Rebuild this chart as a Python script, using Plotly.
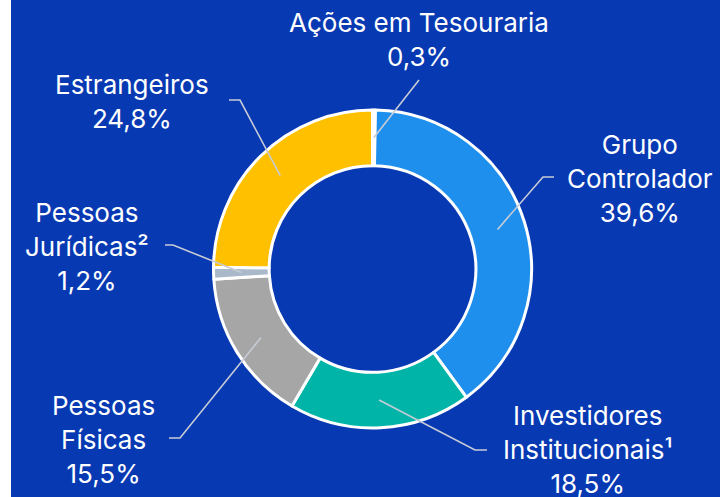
import math
import plotly.graph_objects as go

# ---- data ----
categories = ["Ações em Tesouraria", "Grupo Controlador", "Investidores Institucionais¹",
              "Pessoas Físicas", "Pessoas Jurídicas²", "Estrangeiros"]
shares = [0.3, 39.6, 18.5, 15.5, 1.2, 24.8]
colors = ["#FFFFFF", "#1F8FEE", "#00B5A8", "#A6A6A6", "#A9B9C9", "#FFC000"]

# ---- layout constants (pixels) ----
W, H = 720, 497
BG = "#0739B3"
CX, CY, R = 372.5, 269.0, 159.0
HOLE = 0.65
# label centres, leader knees and leader ends
label_pos = [(419, 40), (640, 178), (587, 449), (103, 439), (87, 246), (132, 101)]
knees = [(419, 80), (543, 177), (475, 450), (180, 438), (173, 245), (240, 100)]
ends = [(419, 80), (554, 177), (487, 450), (169, 438), (165, 245), (229, 100)]


def px(x):
    return x / W


def py(y):
    return 1 - y / H


def wrap(name):
    if name == "Ações em Tesouraria":
        return name
    return name.replace(" ", "<br>", 1)


def fmt(v):
    return f"{v:.1f}".replace(".", ",") + "%"


fig = go.Figure(go.Pie(
    labels=categories,
    values=shares,
    sort=False,
    direction="clockwise",
    rotation=0,
    hole=HOLE,
    marker=dict(colors=colors, line=dict(color="#FFFFFF", width=3)),
    textinfo="none",
    hoverinfo="label+percent",
    showlegend=False,
    domain=dict(x=[px(CX - R), px(CX + R)], y=[py(CY + R), py(CY - R)]),
))

shapes = [dict(type="rect", xref="paper", yref="paper", x0=px(11), x1=1, y0=0, y1=1,
               fillcolor=BG, line=dict(width=0), layer="below")]
annotations = []
total = sum(shares)
cum = 0.0
rmid = R * (1 + HOLE) / 2
for name, v, lp, kn, en in zip(categories, shares, label_pos, knees, ends):
    mid = (cum + v / 2) / total * 2 * math.pi
    cum += v
    sx = CX + rmid * math.sin(mid)
    sy = CY - rmid * math.cos(mid)
    path = f"M {px(sx)} {py(sy)} L {px(kn[0])} {py(kn[1])} L {px(en[0])} {py(en[1])}"
    shapes.append(dict(type="path", xref="paper", yref="paper", path=path,
                       line=dict(color="#C8CCD6", width=1.6), layer="above"))
    annotations.append(dict(
        x=px(lp[0]), y=py(lp[1]), xref="paper", yref="paper",
        text=wrap(name) + "<br>" + fmt(v), showarrow=False,
        xanchor="center", yanchor="middle", align="center",
        font=dict(family="Inter, sans-serif", size=26, color="#FFFFFF"),
    ))

fig.update_layout(
    width=W, height=H,
    margin=dict(l=0, r=0, t=0, b=0),
    paper_bgcolor="#FFFFFF",
    plot_bgcolor=BG,
    shapes=shapes,
    annotations=annotations,
)

fig.write_html("out.html", config={"displayModeBar": False},
               post_script="document.body.style.margin='0';")
